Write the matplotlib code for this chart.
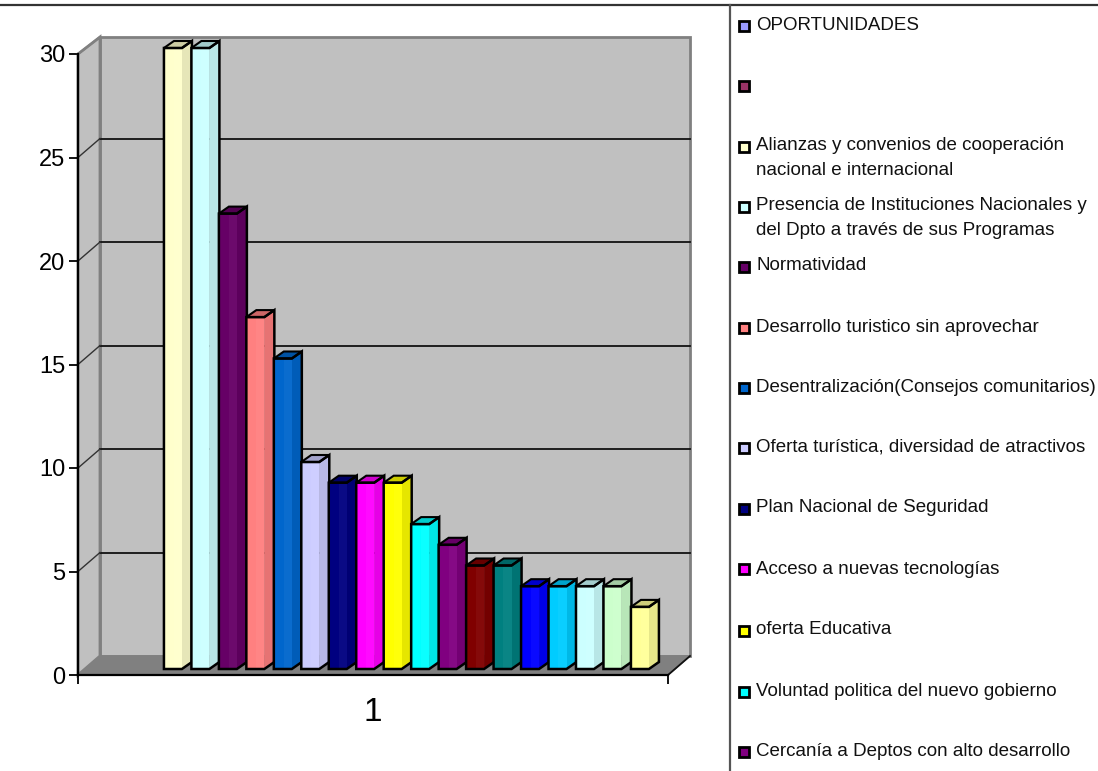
#3D style column chart, oportunidades
import matplotlib
matplotlib.use("Agg")
from matplotlib import pyplot as plt
from matplotlib.patches import Polygon, Rectangle
from matplotlib.colors import to_rgb

plt.rcParams['font.family'] = ['Liberation Sans', 'DejaVu Sans']

W, H = 1098, 771

# first two series are in the legend but have no bar
values = [0, 0, 30, 30, 22, 17, 15, 10, 9, 9, 9, 7, 6, 5, 5, 4, 4, 4, 4, 3]
colors = ["#9999FF", "#993366", "#FFFFCC", "#CCFFFF", "#660066", "#FF8080", "#0066CC",
          "#CCCCFF", "#000080", "#FF00FF", "#FFFF00", "#00FFFF", "#800080", "#800000",
          "#008080", "#0000FF", "#00CCFF", "#CCFFFF", "#CCFFCC", "#FFFF99"]
yticks = [0, 5, 10, 15, 20, 25, 30]
category = "1"
legend_labels = ["OPORTUNIDADES", "",
                 "Alianzas y convenios de cooperación\nnacional e internacional",
                 "Presencia de Instituciones Nacionales y\ndel Dpto a través de sus Programas",
                 "Normatividad", "Desarrollo turistico sin aprovechar",
                 "Desentralización(Consejos comunitarios)",
                 "Oferta turística, diversidad de atractivos",
                 "Plan Nacional de Seguridad", "Acceso a nuevas tecnologías",
                 "oferta Educativa", "Voluntad politica del nuevo gobierno",
                 "Cercanía a Deptos con alto desarrollo"]
legend_y = [25, 85, 158, 218, 266, 327, 387, 447, 508, 569, 630, 691, 751]
swatch_y = [25, 85, 146, 206, 266, 327, 387, 447, 508, 568, 630, 691, 751]


def shade(c, f):
    return tuple(min(1, v * f) for v in to_rgb(c))


def lighten(c, f):
    return tuple(v + (1 - v) * f for v in to_rgb(c))


fig = plt.figure(figsize=(W / 100, H / 100), dpi=100)
ax = fig.add_axes([78 / W, 1 - 675 / H, 590 / W, 621 / H], facecolor="none")

step = 27.47  # px per series
unit = 621 / 30  # px per value unit
ax.set_xlim((78 - 109) / step, (668 - 109) / step)
ax.set_ylim(0, 30)
x0, x1 = ax.get_xlim()

# walls and floor
dx, dy = 22 / step, 19 / unit
top = 30 + 17 / unit
wall = "#C0C0C0"
edge = "#808080"
ax.add_patch(Polygon([(x0 + dx, dy), (x1 + dx, dy), (x1 + dx, top), (x0 + dx, top)],
                     fc=wall, ec=edge, lw=2, clip_on=False, zorder=1))
ax.add_patch(Polygon([(x0, 0), (x0 + dx, dy), (x0 + dx, top), (x0, 30)],
                     fc=wall, ec=edge, lw=2, clip_on=False, zorder=1))
ax.add_patch(Polygon([(x0, 0), (x1, 0), (x1 + dx, dy), (x0 + dx, dy)],
                     fc="#808080", ec="#808080", lw=1, clip_on=False, zorder=2))
for t in yticks[1:-1]:
    ax.plot([x0 + dx, x1 + dx], [t + dy, t + dy], color="#111111", lw=1.3, clip_on=False, zorder=2)
    ax.plot([x0, x0 + dx], [t, t + dy], color="#333333", lw=1.0, clip_on=False, zorder=2)
ax.plot([x0, x0 + dx], [30, top], color=edge, lw=1.5, clip_on=False, zorder=2)
ax.plot([x1, x1 + dx], [0, dy], color="#111111", lw=1.3, clip_on=False, zorder=4)

# bars, front and side without a line between them, then the outline
front = 18 / step
bx, by = 10 / step, 7 / unit
base = 6 / unit
for i, (v, c) in enumerate(zip(values, colors)):
    if v == 0:
        continue
    tv = v + base
    ax.add_patch(Polygon([(i + front, base), (i + front + bx, base + by),
                          (i + front + bx, tv + by), (i + front, tv)],
                         fc=shade(c, 0.9), ec=shade(c, 0.9), lw=0.5, zorder=3, clip_on=False))
    ax.bar(i, v, width=front, bottom=base, align="edge", color=c, lw=0, zorder=3, clip_on=False)
    ax.bar(i + front * 0.55, v, width=front * 0.45, bottom=base, align="edge",
           color=lighten(c, 0.04), lw=0, zorder=3, clip_on=False)
    ax.add_patch(Polygon([(i, tv), (i + front, tv), (i + front + bx, tv + by), (i + bx, tv + by)],
                         fc=shade(c, 0.8), ec="black", lw=1.5, zorder=3, clip_on=False))
    ax.add_patch(Polygon([(i, base), (i + front, base), (i + front + bx, base + by),
                          (i + front + bx, tv + by), (i + front, tv), (i, tv)],
                         fc="none", ec="black", lw=1.8, zorder=3, clip_on=False))

# axes
for s in ["top", "right"]:
    ax.spines[s].set_visible(False)
for s in ["left", "bottom"]:
    ax.spines[s].set_linewidth(1.6)
    ax.spines[s].set_zorder(5)
ax.set_yticks(yticks)
ax.set_xticks([(373 - 109) / step])
ax.set_xticklabels([category], fontsize=24)
ax.set_xticks([x0, x1], minor=True)
ax.tick_params(axis="x", which="major", length=0, pad=16)
ax.tick_params(axis="x", which="minor", length=6.5, width=1.3)
ax.tick_params(axis="y", length=6.5, width=1.3, labelsize=17, pad=2.5)

# frame lines of the table around the chart
fig.add_artist(plt.Line2D([0, 1], [1 - 5 / H, 1 - 5 / H], color="#333333", lw=1.6))
fig.add_artist(plt.Line2D([730 / W, 730 / W], [0, 1 - 5 / H], color="#555555", lw=1.6))

# legend, cut off at the bottom of the cell
for label, y, sy, c in zip(legend_labels, legend_y, swatch_y, colors):
    fig.add_artist(Rectangle(((738.5 / W), 1 - (sy + 5.5) / H), 10 / W, 10 / H, fc=c, ec="black", lw=2,
                             transform=fig.transFigure))
    fig.text(756 / W, 1 - y / H, label, fontsize=13.5, va="center", ha="left", color="#111111",
             linespacing=1.55)

fig.savefig("out.png", dpi=100)
